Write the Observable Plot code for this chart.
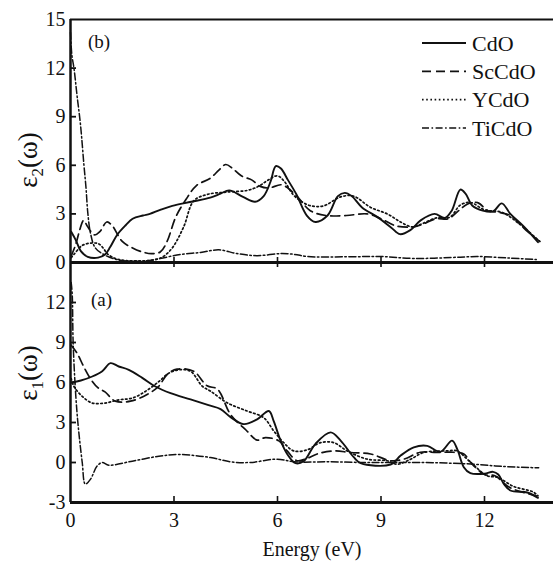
<!DOCTYPE html>
<html><head><meta charset="utf-8">
<script src="https://cdn.jsdelivr.net/npm/d3@7"></script>
<script src="https://cdn.jsdelivr.net/npm/@observablehq/plot@0.6"></script>
<style>
body{margin:0;background:#fff;}
#chart{position:relative;width:553px;height:563px;overflow:hidden;background:#fff;}
#chart svg{position:absolute;left:0;overflow:visible;background:transparent;}
</style></head><body><div id="chart"></div>
<script>
// ---- data ----
const energyTicks = [0, 3, 6, 9, 12];
const eps2Ticks = [0, 3, 6, 9, 12, 15];
const eps1Ticks = [-3, 0, 3, 6, 9, 12];
const seriesNames = ["CdO", "ScCdO", "YCdO", "TiCdO"];

// panel (b): epsilon_2
const cdoEps2 = [[0.02,1.9],[0.15,1.4],[0.3,0.7],[0.5,0.35],[0.8,0.3],[1.0,0.5],[1.15,0.95],[1.35,1.7],[1.6,2.3],[1.8,2.7],[2.1,2.9],[2.3,3.0],[2.6,3.25],[2.95,3.5],[3.5,3.75],[4.05,4.0],[4.35,4.25],[4.6,4.45],[5.0,4.05],[5.35,3.75],[5.6,4.1],[5.8,5.0],[5.95,5.95],[6.1,5.8],[6.3,5.1],[6.55,4.2],[6.85,2.9],[7.1,2.5],[7.45,2.9],[7.75,4.1],[7.95,4.3],[8.15,4.1],[8.45,3.4],[8.9,2.8],[9.3,2.15],[9.55,1.75],[9.85,2.0],[10.15,2.6],[10.55,3.0],[10.85,2.75],[11.05,3.2],[11.3,4.5],[11.45,4.25],[11.65,3.5],[11.95,3.2],[12.25,3.15],[12.5,3.65],[12.75,3.0],[13.15,2.2],[13.55,1.25]];
const sccdoEps2 = [[0.02,0.4],[0.15,1.1],[0.28,2.1],[0.38,2.6],[0.5,2.2],[0.7,1.7],[0.85,1.9],[1.05,2.5],[1.2,2.3],[1.5,1.3],[1.8,0.9],[2.1,0.64],[2.35,0.55],[2.6,0.65],[2.8,1.3],[3.05,2.8],[3.35,3.9],[3.65,4.75],[4.05,5.2],[4.3,5.7],[4.5,6.05],[4.7,5.8],[4.95,5.35],[5.25,5.1],[5.5,4.7],[5.75,4.6],[6.1,4.8],[6.3,4.6],[6.6,4.0],[6.95,3.2],[7.4,2.9],[8.0,2.9],[8.6,3.0],[9.0,2.7],[9.45,2.25],[9.95,2.2],[10.2,2.35],[10.6,2.7],[10.95,2.7],[11.25,3.2],[11.5,3.6],[11.8,3.7],[12.1,3.2],[12.4,3.1],[12.75,2.9],[13.2,2.0],[13.6,1.3]];
const ycdoEps2 = [[0.02,0.3],[0.1,0.5],[0.34,1.05],[0.6,1.2],[0.82,1.15],[0.96,0.86],[1.06,0.55],[1.3,0.25],[1.6,0.12],[2.0,0.1],[2.4,0.15],[2.66,0.33],[2.95,0.9],[3.28,2.2],[3.57,3.8],[3.96,4.2],[4.54,4.35],[5.12,4.45],[5.45,4.7],[5.7,5.05],[6.0,5.35],[6.2,5.0],[6.45,4.2],[6.67,3.8],[6.96,3.5],[7.34,3.5],[7.83,4.05],[8.2,4.1],[8.7,3.4],[9.18,3.0],[9.57,2.5],[9.9,2.2],[10.2,2.4],[10.6,2.75],[11.0,2.8],[11.3,3.55],[11.6,3.7],[12.0,3.25],[12.5,3.1],[13.0,2.4],[13.6,1.3]];
const ticdoEps2 = [[0.0,14.2],[0.04,12.8],[0.1,12.0],[0.19,10.3],[0.29,8.5],[0.39,6.0],[0.45,4.6],[0.5,3.1],[0.58,1.8],[0.72,0.9],[1.0,0.45],[1.4,0.15],[1.8,0.08],[2.2,0.1],[2.6,0.25],[3.2,0.5],[3.77,0.62],[4.3,0.78],[4.83,0.55],[5.4,0.42],[6.09,0.55],[6.5,0.5],[6.86,0.37],[8.0,0.35],[9.0,0.37],[9.95,0.25],[11.3,0.33],[11.8,0.37],[12.75,0.27],[13.5,0.18]];

// panel (a): epsilon_1
const cdoEps1 = [[0.02,6.0],[0.3,6.15],[0.63,6.45],[0.92,6.85],[1.16,7.45],[1.4,7.2],[1.69,6.95],[2.08,6.35],[2.46,5.7],[2.9,5.2],[3.48,4.73],[4.0,4.3],[4.35,4.0],[4.64,3.4],[5.02,2.88],[5.41,3.24],[5.75,3.86],[5.89,3.1],[6.09,1.64],[6.28,0.64],[6.52,-0.05],[6.76,0.1],[7.1,1.4],[7.54,2.26],[7.83,1.64],[8.21,0.4],[8.41,-0.05],[9.28,-0.15],[9.57,0.52],[9.95,1.14],[10.34,1.25],[10.72,0.8],[11.06,1.64],[11.21,1.0],[11.4,-0.35],[11.59,-0.8],[12.0,-0.84],[12.25,-0.7],[12.4,-0.9],[12.56,-1.6],[12.75,-2.1],[13.24,-2.25],[13.55,-2.65]];
const sccdoEps1 = [[0.02,8.8],[0.19,8.2],[0.39,7.15],[0.6,6.2],[0.8,5.6],[1.0,5.3],[1.3,4.6],[1.74,4.6],[2.22,5.1],[2.55,5.7],[2.8,6.6],[3.09,7.0],[3.57,6.84],[3.96,5.75],[4.26,5.5],[4.64,3.6],[5.1,2.4],[5.41,1.68],[5.65,1.87],[6.04,1.62],[6.28,0.87],[6.57,0.13],[6.85,0.3],[7.15,0.64],[7.63,0.87],[8.12,0.75],[8.7,0.64],[9.28,0.13],[9.66,0.25],[10.14,0.77],[10.6,0.75],[11.1,0.77],[11.4,0.64],[11.6,0.0],[12.0,-0.9],[12.3,-1.0],[12.75,-1.9],[13.5,-2.5]];
const ycdoEps1 = [[0.02,6.3],[0.1,5.7],[0.34,4.96],[0.63,4.46],[1.0,4.46],[1.4,4.7],[1.79,4.83],[2.17,5.33],[2.56,6.07],[2.85,6.7],[3.14,6.95],[3.48,6.84],[3.82,5.72],[4.06,5.35],[4.54,4.48],[5.12,3.86],[5.6,3.36],[5.89,2.37],[6.18,1.49],[6.47,0.87],[6.86,0.95],[7.25,1.49],[7.63,1.49],[8.02,0.87],[8.6,0.25],[9.18,0.13],[9.47,-0.13],[9.86,0.25],[10.24,0.75],[10.9,0.87],[11.2,0.87],[11.55,0.13],[12.08,-1.0],[12.37,-1.1],[12.85,-1.8],[13.4,-2.2],[13.55,-2.5]];
const ticdoEps1 = [[0.02,13.5],[0.05,12.6],[0.08,8.7],[0.19,3.7],[0.34,0.0],[0.43,-1.62],[0.58,-1.25],[0.77,-0.27],[0.92,0.0],[1.11,-0.2],[1.79,0.1],[2.56,0.47],[3.14,0.6],[4.06,0.37],[4.64,0.05],[5.2,0.0],[5.99,0.25],[6.5,0.05],[7.5,0.05],[8.5,0.0],[9.3,0.0],[10.14,0.0],[11.5,-0.1],[12.56,-0.3],[13.57,-0.4]];

// ---- styles ----
const dashes = {CdO: null, ScCdO: "9,5", YCdO: "1.6,2.6", TiCdO: "7,2.5,1.6,2.5"};
const widths = {CdO: 1.9, ScCdO: 1.7, YCdO: 1.7, TiCdO: 1.5};
const FONT = "'Liberation Serif', 'Times New Roman', serif";
const W = 553, ML = 70, MR = 0;
const xDomain = [0, 14];
const pxX = (W - ML - MR) / (xDomain[1] - xDomain[0]);

const H1 = 265, MT1 = 19, MB1 = 3, y1Domain = [0, 15];
const pxY1 = (H1 - MT1 - MB1) / (y1Domain[1] - y1Domain[0]);
const TOP2 = 259, H2 = 304, MT2 = 3, MB2 = 61, y2Domain = [-3, 15];
const pxY2 = (H2 - MT2 - MB2) / (y2Domain[1] - y2Domain[0]);

function seriesLines(list) {
  return list.map(([name, data]) => Plot.line(data, {
    x: d => d[0], y: d => d[1], stroke: "#111",
    strokeWidth: widths[name], strokeDasharray: dashes[name],
    curve: "catmull-rom"
  }));
}

function yLabel(sub, cx, cy) {
  return () => {
    const t = d3.create("svg:text")
      .attr("transform", `translate(${cx},${cy}) rotate(-90)`)
      .attr("text-anchor", "middle").attr("font-size", 27).attr("fill", "#111")
      .attr("font-family", FONT);
    t.append("tspan").text("ε");
    t.append("tspan").attr("font-size", 17).attr("dy", "0.35em").text(sub);
    t.append("tspan").attr("dy", "-0.22em").text("(ω)");
    return t.node();
  };
}
function plainText(str, x, y, size, anchor = "start") {
  return () => d3.create("svg:text").attr("x", x).attr("y", y)
    .attr("font-size", size).attr("text-anchor", anchor).attr("fill", "#111")
    .attr("font-family", FONT).text(str).node();
}
function legend() {
  return () => {
    const g = d3.create("svg:g");
    seriesNames.forEach((name, i) => {
      const cy = 43 + i * 28.3;
      g.append("line").attr("x1", 422).attr("x2", 466).attr("y1", cy).attr("y2", cy)
        .attr("stroke", "#111").attr("stroke-width", widths[name])
        .attr("stroke-dasharray", dashes[name]);
      g.append("text").attr("x", 472).attr("y", cy).attr("dy", "0.35em")
        .attr("text-anchor", "start")
        .attr("font-size", 22).attr("font-family", FONT).attr("fill", "#111").text(name);
    });
    return g.node();
  };
}

const inner = energyTicks.filter(t => t > 0);

const topPlot = Plot.plot({
  width: W, height: H1, marginLeft: ML, marginRight: MR, marginTop: MT1, marginBottom: MB1,
  style: {fontFamily: FONT, fontSize: "20px", background: "transparent", overflow: "visible", color: "#111"},
  x: {domain: xDomain, axis: null},
  y: {domain: y1Domain, label: null},
  marks: [
    Plot.axisY({ticks: eps2Ticks, tickSize: 0, tickPadding: 5, tickFormat: d => String(d), label: null}),
    Plot.ruleY(eps2Ticks.filter(t => t > 0 && t < 15), {x1: 0, x2: 6 / pxX, stroke: "#111", strokeWidth: 1.8}),
    Plot.ruleX(inner, {y1: -5 / pxY1, y2: 5 / pxY1, stroke: "#111", strokeWidth: 1.6}),
    ...seriesLines([["CdO", cdoEps2], ["ScCdO", sccdoEps2], ["YCdO", ycdoEps2], ["TiCdO", ticdoEps2]]),
    Plot.ruleY([15], {stroke: "#111", strokeWidth: 2}),
    Plot.ruleX([0], {stroke: "#111", strokeWidth: 2.5}),
    Plot.ruleY([0], {stroke: "#111", strokeWidth: 3}),
    yLabel("2", 37, 160),
    plainText("(b)", 88, 48, 19),
    legend()
  ]
});
topPlot.style.top = "0px";

const bottomPlot = Plot.plot({
  width: W, height: H2, marginLeft: ML, marginRight: MR, marginTop: MT2, marginBottom: MB2,
  style: {fontFamily: FONT, fontSize: "20px", background: "transparent", overflow: "visible", color: "#111"},
  x: {domain: xDomain, label: null},
  y: {domain: y2Domain, label: null},
  marks: [
    Plot.axisY({ticks: eps1Ticks, tickSize: 0, tickPadding: 5, tickFormat: d => String(d), label: null}),
    Plot.axisX({ticks: energyTicks, tickSize: 0, tickPadding: 10, tickFormat: d => String(d), label: null}),
    Plot.ruleY(eps1Ticks.filter(t => t > -3), {x1: 0, x2: 6 / pxX, stroke: "#111", strokeWidth: 1.8}),
    Plot.ruleX(inner, {y1: -3, y2: -3 + 6 / pxY2, stroke: "#111", strokeWidth: 1.6}),
    ...seriesLines([["CdO", cdoEps1], ["ScCdO", sccdoEps1], ["YCdO", ycdoEps1], ["TiCdO", ticdoEps1]]),
    Plot.ruleX([0], {stroke: "#111", strokeWidth: 2.5}),
    Plot.ruleY([-3], {stroke: "#111", strokeWidth: 3}),
    yLabel("1", 37, 373 - TOP2),
    plainText("(a)", 91, 306 - TOP2, 19),
    plainText("Energy (eV)", 312, 556 - TOP2, 20, "middle")
  ]
});
bottomPlot.style.top = TOP2 + "px";

const chart = document.getElementById("chart");
chart.appendChild(bottomPlot);
chart.appendChild(topPlot);
</script></body></html>
